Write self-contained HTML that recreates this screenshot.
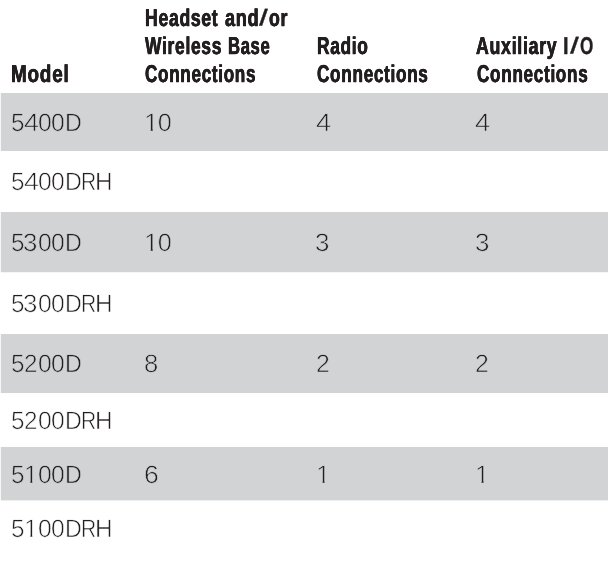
<!DOCTYPE html>
<html lang="en"><head><meta charset="utf-8"><title>Model connections</title>
<style>
html,body{margin:0;padding:0;background:#fff}
body{width:608px;height:576px;position:relative;overflow:hidden;font-family:"Liberation Sans",sans-serif}
.g{position:absolute;left:1px;right:0;background:#d1d3d4}
.e{position:absolute;left:0;width:1px;background:#f6f8f7}
.t{position:absolute;white-space:nowrap;line-height:1;text-rendering:geometricPrecision}
.t i{display:inline-block;font-style:normal;transform-origin:0 0;vertical-align:baseline}
.h{font-weight:bold;font-size:24.3px;color:#231f20;-webkit-text-stroke:0.4px #231f20;text-shadow:0.35px 0 0 #231f20,-0.35px 0 0 #231f20}
.h i{letter-spacing:1px}
.h .s{letter-spacing:0;text-shadow:none}
.h .sl{transform-origin:0 19px}
.b{font-size:25.2px;color:#231f20;-webkit-text-stroke:0.62px #fff}
.b.k{-webkit-text-stroke-color:#d1d3d4}
.one{clip-path:polygon(0 0,100% 0,100% 18px,8.5px 18px,8.5px 100%,6.4px 100%,6.4px 18px,0 18px)}
</style></head><body>
<div class="g" style="top:93px;height:58px"></div><div class="e" style="top:93px;height:58px"></div>
<div class="g" style="top:212px;height:60px"></div><div class="e" style="top:212px;height:60px"></div>
<div class="g" style="top:334px;height:59px"></div><div class="e" style="top:334px;height:59px"></div>
<div class="g" style="top:447px;height:53px"></div><div class="e" style="top:447px;height:53px"></div>
<div class="g" style="top:272px;height:1px;background:#f4f5f5"></div><div class="g" style="top:500px;height:1px;background:#edeeee"></div>
<span class="t h" style="left:11.23px;top:63px"><i style="transform:scaleX(0.7776)">Model</i></span>
<span class="t h" style="left:144.90px;top:7px"><i style="transform:scaleX(0.7234)">Headset</i></span>
<span class="t h" style="left:225.11px;top:7px"><i style="width:34.09px;transform:scaleX(0.7451)">and</i><i class="s sl" style="width:10.14px;transform:translateY(-0.6px) skewX(-8deg) scaleY(0.92)">/</i><i style="transform:scaleX(0.7273)">or</i></span>
<span class="t h" style="left:144.88px;top:35px"><i style="transform:scaleX(0.7162)">Wireless</i></span>
<span class="t h" style="left:227.85px;top:35px"><i style="transform:scaleX(0.6835)">Base</i></span>
<span class="t h" style="left:145.15px;top:63px"><i style="transform:scaleX(0.7032)">Connections</i></span>
<span class="t h" style="left:316.61px;top:35px"><i style="transform:scaleX(0.7125)">Radio</i></span>
<span class="t h" style="left:316.75px;top:63px"><i style="transform:scaleX(0.7058)">Connections</i></span>
<span class="t h" style="left:475.82px;top:35px"><i style="transform:scaleX(0.7294)">Auxiliary</i></span>
<span class="t h" style="left:563.47px;top:35px"><i class="s" style="width:6.13px;transform:scaleX(0.8235)">I</i><i class="s sl" style="width:10.05px;transform:translateY(-0.6px) skewX(-8deg) scaleY(0.92)">/</i><i class="s" style="transform:scaleX(0.7042)">O</i></span>
<span class="t h" style="left:476.95px;top:63px"><i style="transform:scaleX(0.7045)">Connections</i></span>
<span class="t b k" style="left:10.75px;top:111px"><i style="width:12.98px;transform:scaleX(0.9644)">5</i><i style="width:13.94px;transform:scaleX(1.0667)">4</i><i style="width:13.51px;transform:scaleX(0.9826)">0</i><i style="width:13.47px;transform:scaleX(0.9783)">0</i><i style="transform:scaleX(0.9228)">D</i></span> <span class="t b k" style="left:143.61px;top:111px"><i class="one" style="width:14.04px;transform:scaleX(1.0345)">1</i><i style="">0</i></span> <span class="t b k" style="left:315.62px;top:111px"><i style="transform:scaleX(1.0833)">4</i></span> <span class="t b k" style="left:474.92px;top:111px"><i style="transform:scaleX(1.0833)">4</i></span>
<span class="t b" style="left:10.75px;top:170px"><i style="width:12.98px;transform:scaleX(0.9644)">5</i><i style="width:13.94px;transform:scaleX(1.0667)">4</i><i style="width:13.51px;transform:scaleX(0.9826)">0</i><i style="width:13.47px;transform:scaleX(0.9783)">0</i><i style="width:16.67px;transform:scaleX(0.9228)">D</i><i style="width:13.68px;transform:scaleX(0.8364)">R</i><i style="transform:scaleX(0.9660)">H</i></span>
<span class="t b k" style="left:10.75px;top:231px"><i style="width:12.61px;transform:scaleX(0.9644)">5</i><i style="width:14.31px;transform:scaleX(1.0273)">3</i><i style="width:13.51px;transform:scaleX(0.9826)">0</i><i style="width:13.47px;transform:scaleX(0.9783)">0</i><i style="transform:scaleX(0.9228)">D</i></span> <span class="t b k" style="left:143.61px;top:231px"><i class="one" style="width:14.04px;transform:scaleX(1.0345)">1</i><i style="">0</i></span> <span class="t b k" style="left:315.35px;top:231px"><i style="transform:scaleX(1.0318)">3</i></span> <span class="t b k" style="left:474.65px;top:231px"><i style="transform:scaleX(1.0318)">3</i></span>
<span class="t b" style="left:10.75px;top:292px"><i style="width:12.61px;transform:scaleX(0.9644)">5</i><i style="width:14.31px;transform:scaleX(1.0273)">3</i><i style="width:13.51px;transform:scaleX(0.9826)">0</i><i style="width:13.47px;transform:scaleX(0.9783)">0</i><i style="width:16.67px;transform:scaleX(0.9228)">D</i><i style="width:13.68px;transform:scaleX(0.8364)">R</i><i style="transform:scaleX(0.9660)">H</i></span>
<span class="t b k" style="left:10.75px;top:352px"><i style="width:13.40px;transform:scaleX(0.9644)">5</i><i style="width:13.52px;transform:scaleX(0.9636)">2</i><i style="width:13.51px;transform:scaleX(0.9826)">0</i><i style="width:13.47px;transform:scaleX(0.9783)">0</i><i style="transform:scaleX(0.9228)">D</i></span> <span class="t b k" style="left:143.97px;top:352px"><i style="transform:scaleX(1.0182)">8</i></span> <span class="t b k" style="left:315.92px;top:352px"><i style="transform:scaleX(0.9864)">2</i></span> <span class="t b k" style="left:475.22px;top:352px"><i style="transform:scaleX(0.9864)">2</i></span>
<span class="t b" style="left:10.75px;top:409px"><i style="width:13.40px;transform:scaleX(0.9644)">5</i><i style="width:13.52px;transform:scaleX(0.9636)">2</i><i style="width:13.51px;transform:scaleX(0.9826)">0</i><i style="width:13.47px;transform:scaleX(0.9783)">0</i><i style="width:16.67px;transform:scaleX(0.9228)">D</i><i style="width:13.68px;transform:scaleX(0.8364)">R</i><i style="transform:scaleX(0.9660)">H</i></span>
<span class="t b k" style="left:10.75px;top:463px"><i style="width:13.29px;transform:scaleX(0.9644)">5</i><i class="one" style="width:13.63px;transform:scaleX(0.9828)">1</i><i style="width:13.51px;transform:scaleX(0.9826)">0</i><i style="width:13.47px;transform:scaleX(0.9783)">0</i><i style="transform:scaleX(0.9228)">D</i></span> <span class="t b k" style="left:143.82px;top:463px"><i style="transform:scaleX(1.0545)">6</i></span> <span class="t b k" style="left:315.86px;top:463px"><i class="one" style="transform:scaleX(1.0172)">1</i></span> <span class="t b k" style="left:475.16px;top:463px"><i class="one" style="transform:scaleX(1.0172)">1</i></span>
<span class="t b" style="left:10.75px;top:517px"><i style="width:13.29px;transform:scaleX(0.9644)">5</i><i class="one" style="width:13.63px;transform:scaleX(0.9828)">1</i><i style="width:13.51px;transform:scaleX(0.9826)">0</i><i style="width:13.47px;transform:scaleX(0.9783)">0</i><i style="width:16.67px;transform:scaleX(0.9228)">D</i><i style="width:13.68px;transform:scaleX(0.8364)">R</i><i style="transform:scaleX(0.9660)">H</i></span>
</body></html>
